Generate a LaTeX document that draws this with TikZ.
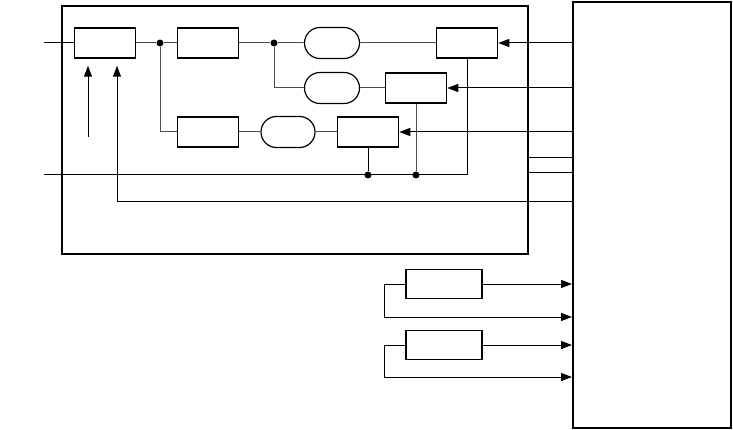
\documentclass[tikz,border=0pt]{standalone}
\usepackage{tikz}
\usetikzlibrary{positioning, arrows.meta, shapes.misc}
\tikzset{
  blk/.style={draw, line width=1.5pt, minimum width=61pt, minimum height=30pt, inner sep=0pt},
  lblk/.style={blk, minimum width=76pt, minimum height=29pt},
  rblk/.style={draw, rounded rectangle, line width=1.2pt, minimum width=55pt,
               minimum height=31pt, inner sep=0pt},   % skruglennye bloki
  frm/.style={draw, line width=2pt, inner sep=0pt},
  con/.style={line width=1pt, black!70},
  sig/.style={line width=1pt},
  sar/.style={sig, -{Triangle[length=11pt, width=8pt]}},
  jnt/.style={circle, fill, inner sep=0pt, minimum size=7pt},
}
\begin{document}
\begin{tikzpicture}[x=1pt, y=-1pt]
        \useasboundingbox (0,0) rectangle (733,430);
        \node[frm, minimum width=466pt, minimum height=248pt](frame) at (295,130){};
        \node[frm, minimum width=158pt, minimum height=426pt](ctl) at (652,215){};
        \node[blk](a) at (105,43){};
        \node[blk](b) at (208,43){};
        \node[blk](c) at (208,132){};
        \node[rblk](e1) at (332,43){};
        \node[rblk](e2) at (332,88){};
        \node[rblk, minimum width=54pt](e3) at (288,132){};
        \node[blk](d) at (467,43){};
        \node[blk](f) at (416,88){};
        \node[blk](g) at (368,132){};
        \node[lblk](h) at (444,284){};
        \node[lblk](i) at (444,345){};
        \node[jnt](j1) at (160,43){};
        \node[jnt](j2) at (274,43){};
        \coordinate (in1) at (44,43);
        \coordinate (in2) at (44,175);
        \coordinate (up1) at (88,137);
        \coordinate (fb) at ([xshift=12pt, yshift=-7pt]a.south);
        \node[jnt](j3) at (g.south |- in2){};
        \node[jnt](j4) at (f.south |- in2){};
        \draw[sig](in1)--(a.west);
        \draw[con](a.east)--(j1)--(b.west);
        \draw[con](b.east)--(j2)--(e1.west); \draw[con](e1.east)--(d.west);
        \draw[con](j2)|-(e2.west); \draw[con](e2.east)--(f.west);
        \draw[con](j1)|-(c.west); \draw[con](c.east)--(e3.west); \draw[con](e3.east)--(g.west);
        \draw[sar](ctl.west |- d.east)--(d.east);
        \draw[sar](ctl.west |- f.east)--(f.east);
        \draw[sar](ctl.west |- g.east)--(g.east);
        \draw[sig](in2)-|(d.south);
        \draw[sig](g.south)--(j3); \draw[con](f.south)--(j4);
        \draw[sar](ctl.west |- 0,202)-|(fb);
        \draw[sar](up1)--(up1 |- fb);
        \draw[sig](frame.east |- 0,158)--(ctl.west |- 0,158);
        \draw[sig](frame.east |- 0,173)--(ctl.west |- 0,173);
        \draw[sar](h.east)--(ctl.west |- h.east);
        \draw[sar](h.west)--++(-21,0)|-(ctl.west |- 0,317);
        \draw[sar](i.west)--++(-21,0)|-(ctl.west |- 0,377);
        \draw[sar](i.east)--(ctl.west |- i.east);
      \end{tikzpicture}
\end{document}
